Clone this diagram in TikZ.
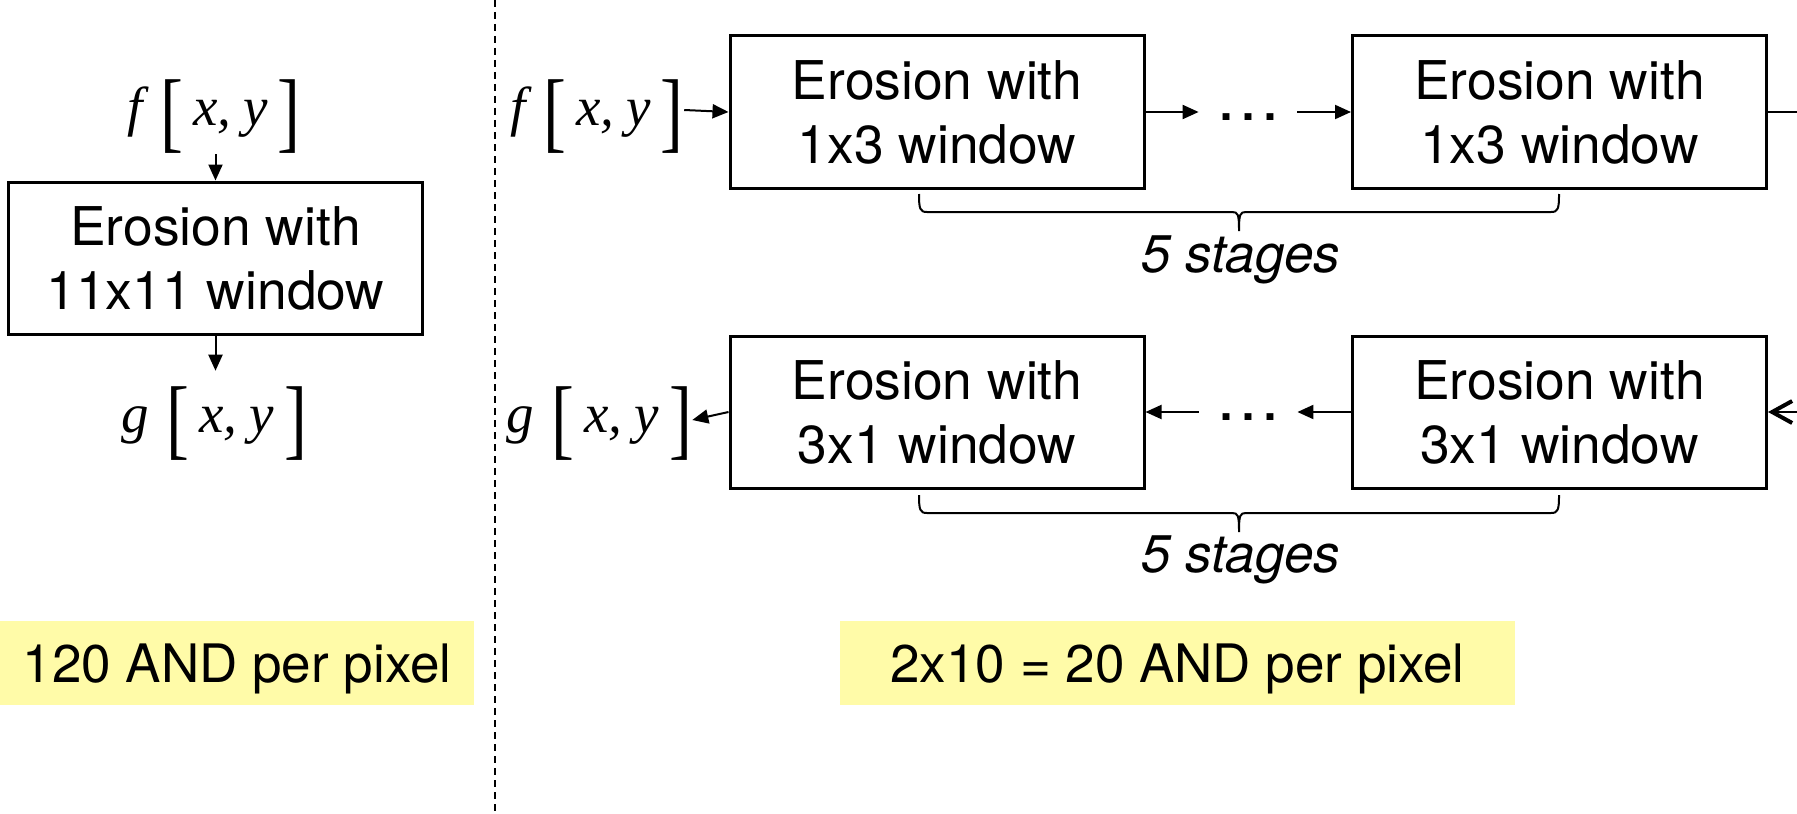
\documentclass[tikz,border=0pt]{standalone}
\usepackage{fontspec}
\setmainfont{TeX Gyre Heros}
\newfontfamily\tms{Liberation Serif}
\usepackage{graphicx}
\usetikzlibrary{arrows.meta}
\definecolor{hlyellow}{RGB}{255,251,168}
\newcommand\bbr[1]{\raisebox{-8pt}{\scalebox{1.25}[1.62]{\upshape #1}}}
\newcommand\fxy[1]{{\tms\itshape #1\hspace{9pt}\bbr{[}\hspace{5pt}x,\hspace{6pt}y\hspace{5pt}\bbr{]}}}
\begin{document}
\begin{tikzpicture}[x=0.5pt,y=-0.5pt,
  box/.style={draw,line width=1.5pt,minimum width=207pt,minimum height=76pt,inner sep=0pt,align=center,font=\fontsize{26.7}{32}\selectfont},
  mathlbl/.style={inner sep=0pt,font=\fontsize{27.5}{30}\selectfont},
  arr/.style={line width=1pt,-{Triangle[length=8pt,width=7pt]}},
  dotsnode/.style={inner xsep=8pt,inner ysep=0pt,anchor=base,font=\fontsize{33}{38}\selectfont},
  brc/.style={line width=1pt},
  stagelbl/.style={anchor=base,inner sep=0pt,font=\fontsize{26.5}{30}\selectfont\itshape},
  ybox/.style={fill=hlyellow,minimum width=#1,minimum height=42pt,inner sep=0pt,text depth=0pt,font=\fontsize{26.5}{30}\selectfont},
  sep/.style={line width=1pt,dash pattern=on 3.5pt off 2.5pt},
]
\useasboundingbox (0,0) rectangle (1797,813);
% left part
\node[mathlbl] (fL) at (214,117) {\fxy{f}};
\node[box] (bL) at (215.5,258) {Erosion with\\11x11 window};
\node[mathlbl] (gL) at (214,424) {\fxy{g}};
\draw[arr] (fL.south -| bL.north) -- (bL.north);
\draw[arr] (bL.south) -- ([yshift=8pt]gL.north -| bL.south);
% separator
\coordinate (sTop) at (495,0);
\coordinate (sBot) at (495,813);
\draw[sep] (sTop) -- (sBot);
% right part, top row
\node[mathlbl] (fR) at (597,117) {\fxy{f}};
\node[box] (b1) at (937,112) {Erosion with\\1x3 window};
\node[box] (b2) at (1559.5,112) {Erosion with\\1x3 window};
\node[dotsnode] (d1) at (1248,120) {…};
\draw[arr] ([yshift=3.5pt]fR.east) -- (b1.west);
\draw[arr] (b1.east) -- (b1.east -| d1.west);
\draw[arr] (b2.west -| d1.east) -- (b2.west);
\coordinate (eR1) at (1797,112);
\draw[line width=0.8pt] (b2.east) -- (eR1);
% bottom row
\node[mathlbl] (gR) at (599,424) {\fxy{g}};
\node[box] (b3) at (937,412) {Erosion with\\3x1 window};
\node[box] (b4) at (1559.5,412) {Erosion with\\3x1 window};
\node[dotsnode] (d2) at (1248,420) {…};
\draw[arr] (b3.west) -- ([yshift=2pt]gR.east);
\draw[arr] (b3.east -| d2.west) -- (b3.east);
\draw[arr] (b4.west) -- (b4.west -| d2.east);
\coordinate (eR2) at (1797,412);
\draw[line width=1pt,-{Straight Barb[length=10pt,width=11pt,line width=2pt]}] (eR2) -- (b4.east);
% braces
\draw[brc] (919,194) .. controls (919,209) and (920,212) .. (927,212) -- (1232,212)
  .. controls (1238,212) and (1239,214) .. (1239,231)
  .. controls (1239,214) and (1240,212) .. (1246,212) -- (1551,212)
  .. controls (1558,212) and (1559,209) .. (1559,194);
\draw[brc] (919,495) .. controls (919,510) and (920,513) .. (927,513) -- (1232,513)
  .. controls (1238,513) and (1239,515) .. (1239,532)
  .. controls (1239,515) and (1240,513) .. (1246,513) -- (1551,513)
  .. controls (1558,513) and (1559,510) .. (1559,495);
\node[stagelbl] (s1) at (1241,272) {5 stages};
\node[stagelbl] (s2) at (1241,572) {5 stages};
% yellow notes
\node[ybox=237pt] (yL) at (237,663) {120 AND per pixel};
\node[ybox=337.5pt] (yR) at (1177.5,663) {2x10 = 20 AND per pixel};
\end{tikzpicture}
\end{document}
